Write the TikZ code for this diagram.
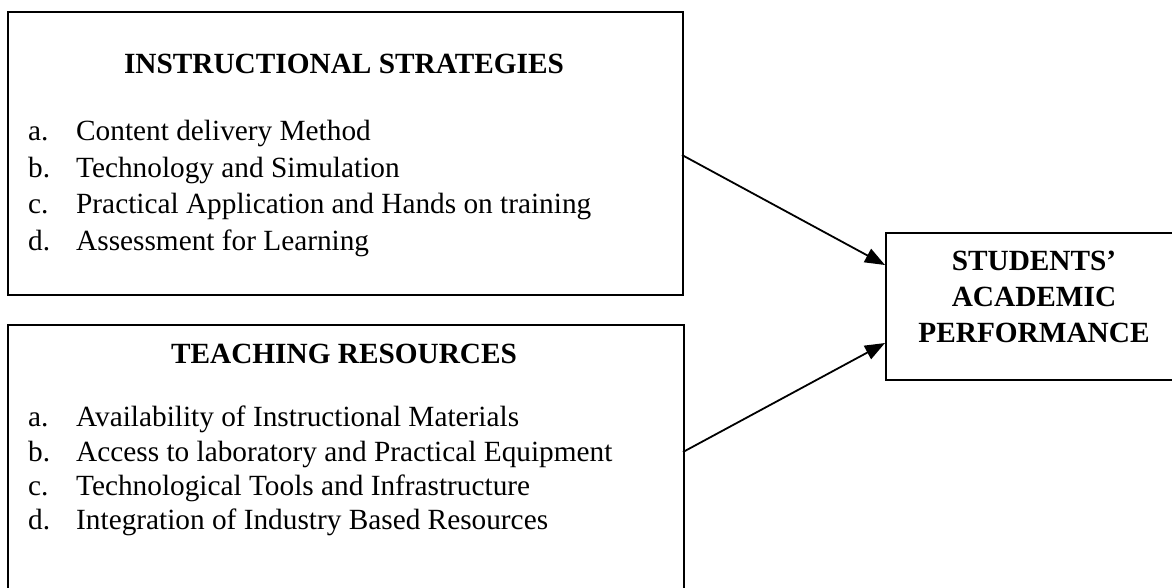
\documentclass[tikz,border=0pt]{standalone}
\usepackage{fontspec}
\setmainfont{Liberation Serif}
\usetikzlibrary{arrows.meta}
\tikzset{
  box/.style={draw=black, line width=1.8pt, rectangle, anchor=north west, inner sep=0pt},
  ttl/.style={font=\fontsize{29.3}{36}\selectfont\bfseries, anchor=base, inner sep=0pt},
  lbl/.style={font=\fontsize{29.3}{36}\selectfont, anchor=base west, inner sep=0pt},
  conn/.style={line width=1.8pt, -{Triangle[length=20pt,width=15pt]}}
}
\begin{document}
\begin{tikzpicture}[x=1pt,y=-1pt]
\clip (0,0) rectangle (1172,587);
\fill[white] (0,0) rectangle (1172,587);
% boxes
\node[box, minimum width=675pt, minimum height=283pt] (box1) at (7,11) {};
\node[box, minimum width=676pt, minimum height=290pt] (box2) at (7,324) {};
\node[box, minimum width=320pt, minimum height=147pt] (box3) at (885,232) {};
% box 1 text
\node[ttl] (t1) at (344,73) {INSTRUCTIONAL STRATEGIES};
\node[lbl] (l1a) at (28,140) {a.};
\node[lbl] (i1a) at (76,140) {Content delivery Method};
\node[lbl] (l1b) at (28,177) {b.};
\node[lbl] (i1b) at (76,177) {Technology and Simulation};
\node[lbl] (l1c) at (28,213) {c.};
\node[lbl] (i1c) at (76,213) {Practical Application and Hands on training};
\node[lbl] (l1d) at (28,250) {d.};
\node[lbl] (i1d) at (76,250) {Assessment for Learning};
% box 2 text
\node[ttl] (t2) at (344,363) {TEACHING RESOURCES};
\node[lbl] (l2a) at (28,426) {a.};
\node[lbl] (i2a) at (76,426) {Availability of Instructional Materials};
\node[lbl] (l2b) at (28,461) {b.};
\node[lbl] (i2b) at (76,461) {Access to laboratory and Practical Equipment};
\node[lbl] (l2c) at (28,495) {c.};
\node[lbl] (i2c) at (76,495) {Technological Tools and Infrastructure};
\node[lbl] (l2d) at (28,529) {d.};
\node[lbl] (i2d) at (76,529) {Integration of Industry Based Resources};
% box 3 text
\node[ttl] (t3a) at (1034,270) {STUDENTS’};
\node[ttl] (t3b) at (1034,306) {ACADEMIC};
\node[ttl] (t3c) at (1034,342) {PERFORMANCE};
% connectors
\coordinate (s1) at (682,155);
\coordinate (e1) at (885,265);
\coordinate (s2) at (683,452);
\coordinate (e2) at (885,343);
\draw[conn] (s1) -- (e1);
\draw[conn] (s2) -- (e2);
\end{tikzpicture}
\end{document}
